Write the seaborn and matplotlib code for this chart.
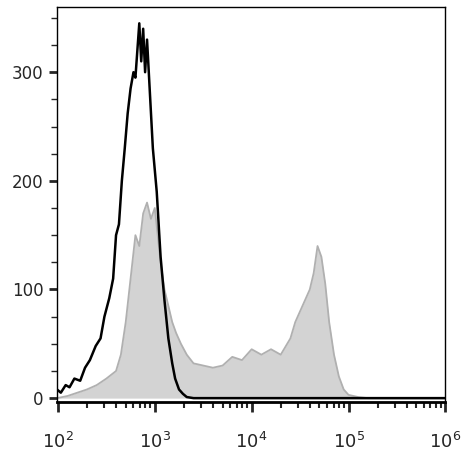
import numpy as np
import matplotlib
matplotlib.use("Agg")
import matplotlib.pyplot as plt
import seaborn as sns
from matplotlib.ticker import FixedLocator, NullFormatter

# black (control) histogram: log10 intensity, counts
black_log = [1.99,2.03,2.08,2.12,2.17,2.23,2.28,2.33,2.39,2.44,2.48,2.53,2.57,2.60,2.63,2.66,2.69,2.72,2.75,2.78,2.80,2.82,2.84,2.86,2.88,2.90,2.92,2.95,2.98,3.02,3.06,3.10,3.14,3.18,3.21,3.25,3.29,3.33,3.40,3.6,4.5,6.0]
black_cnt = [8,5,12,10,18,16,28,35,48,55,75,92,110,150,160,200,230,262,285,300,295,320,345,310,340,300,330,280,230,190,130,90,55,32,18,8,4,1,0,0,0,0]
# gray (stained) histogram
gray_log = [1.99,2.1,2.2,2.3,2.4,2.5,2.6,2.65,2.7,2.75,2.8,2.84,2.88,2.92,2.96,3.0,3.03,3.06,3.1,3.14,3.18,3.22,3.27,3.33,3.4,3.5,3.6,3.7,3.8,3.9,4.0,4.1,4.2,4.3,4.4,4.45,4.5,4.55,4.6,4.64,4.68,4.72,4.76,4.8,4.85,4.9,4.95,5.0,5.1,5.2,6.0]
gray_cnt = [0,2,5,8,12,18,25,40,70,110,150,140,170,180,165,175,150,125,100,85,70,60,50,40,32,30,28,30,38,35,45,40,45,40,55,70,80,90,100,115,140,130,105,70,40,20,8,3,1,0,0]

sns.set_theme(style="white")
fig, ax = plt.subplots(figsize=(4.63, 4.68), dpi=100)
fig.subplots_adjust(left=0.123, right=0.962, top=0.985, bottom=0.14)

gx = 10**np.array(gray_log); bx = 10**np.array(black_log)
ax.fill_between(gx, gray_cnt, color="#d3d3d3", lw=0)
sns.lineplot(x=gx, y=gray_cnt, ax=ax, color="#b0b0b0", lw=1.3, estimator=None)
sns.lineplot(x=bx, y=black_cnt, ax=ax, color="black", lw=1.8, estimator=None)

ax.set_xscale("log")
ax.set_xlim(10**1.99, 1e6)
ax.set_ylim(-4, 360)
ax.xaxis.set_major_locator(FixedLocator([1e2,1e3,1e4,1e5,1e6]))
minors = [m*10**e for e in range(2,6) for m in range(2,10)]
ax.xaxis.set_minor_locator(FixedLocator(minors))
ax.xaxis.set_minor_formatter(NullFormatter())
ax.set_xticklabels([r"$10^2$", r"$10^3$", r"$10^4$", r"$10^5$", r"$10^6$"], fontsize=13)
ax.set_yticks([0,100,200,300])
ax.set_yticks([25,50,75,125,150,175,225,250,275,325,350], minor=True)
ax.tick_params(axis="x", which="major", length=7, width=2, direction="out", pad=14, bottom=True)
ax.tick_params(axis="x", which="minor", length=4, width=1.5, direction="out", bottom=True)
ax.tick_params(axis="y", which="major", length=6, width=2, direction="out", labelsize=12, left=True)
ax.tick_params(axis="y", which="minor", length=4, width=1, direction="out", left=True)
for s in ax.spines.values():
    s.set_color("black"); s.set_linewidth(1)
ax.spines["bottom"].set_linewidth(2)
ax.set_xlabel(""); ax.set_ylabel("")
fig.savefig("out.png", dpi=100)
